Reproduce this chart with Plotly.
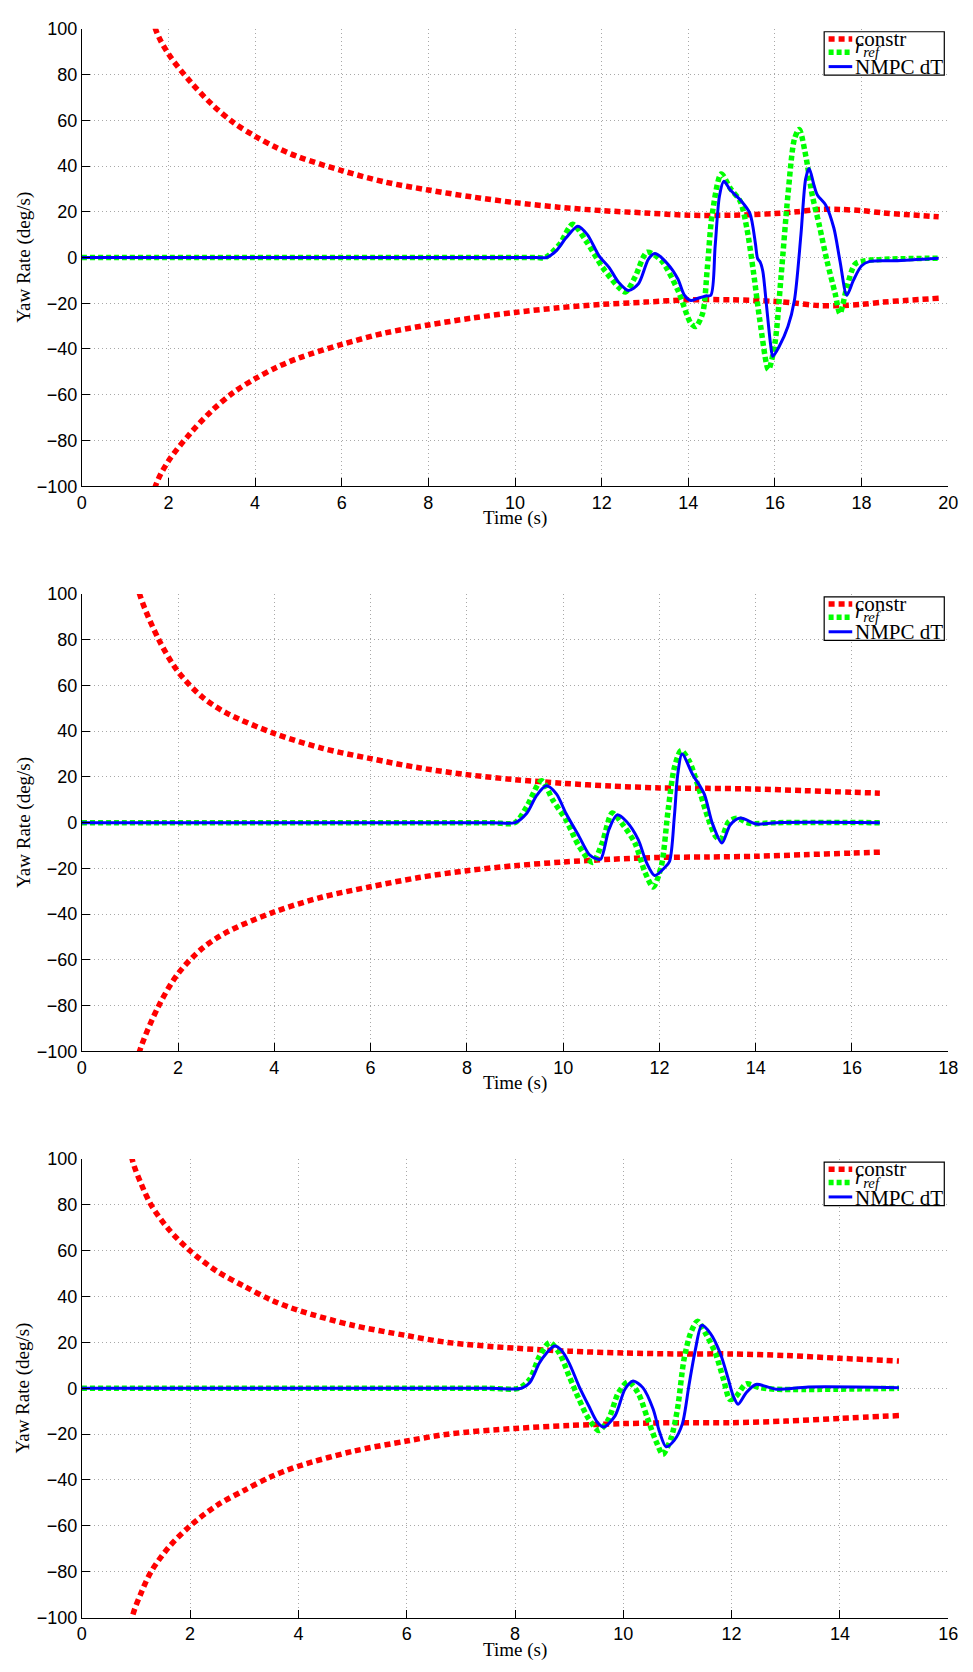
import plotly.graph_objects as go

# ---------------- data ----------------
# Run 1 (0-20 s)
t_c1 = [0, 0.5, 1.0, 1.4, 1.7, 2.0, 2.5, 3.0, 3.5, 4.0, 4.5, 5.0, 6.0, 7.0, 8.0, 9.0,
        10.0, 11.0, 12.0, 13.0, 14.0, 15.0, 16.0, 16.5, 17.0, 17.5, 18.0, 18.5, 19.0, 19.78]
c1 = [1000, 400, 200, 130, 100, 89, 77, 67, 59, 53, 48, 44, 38, 33, 29.5, 26.5,
      24, 22, 20.5, 19.5, 18.5, 18.5, 19.2, 20, 21, 21, 20.5, 19.5, 18.8, 17.8]

t_ref1 = [0, 10.0, 10.5, 10.7, 11.03, 11.33, 11.64, 12.02, 12.39, 12.55, 12.77, 13.05, 13.38,
          13.76, 14.06, 14.17, 14.33, 14.44, 14.55, 14.76, 14.97, 15.2, 15.35, 15.5, 15.65,
          15.85, 16.0, 16.14, 16.3, 16.45, 16.56, 16.71, 16.86, 17.02, 17.2, 17.39, 17.5,
          17.66, 17.85, 18.08, 19.78]
r_ref1 = [0, 0, 0, 0, 5.8, 14.5, 7.2, -4.3, -13, -15.1, -8.6, 2.3, -1.4,
          -14.4, -28.8, -30.2, -24.5, -4.3, 18.7, 36.5, 30.2, 24.5, 12.9, -5.8, -27.3,
          -49, -37.4, -8.6, 27.3, 51.8, 56, 44.6, 27.3, 14.4, -1.4, -15.8, -24.5,
          -13, -2.9, -1.4, -0.3]

t_nmpc1 = [0, 10.0, 10.5, 10.73, 10.95, 11.18, 11.45, 11.67, 11.94, 12.17, 12.39, 12.62, 12.85,
           13.08, 13.23, 13.53, 13.76, 13.91, 14.06, 14.2, 14.4, 14.52, 14.62, 14.72, 14.82,
           14.97, 15.2, 15.42, 15.55, 15.6, 15.66, 15.72, 15.8, 15.9, 15.95, 16.1, 16.3,
           16.45, 16.6, 16.71, 16.79, 16.9, 16.98, 17.17, 17.36, 17.5, 17.66, 17.81, 18.0,
           18.19, 18.76, 19.78]
nmpc1 = [0, 0, 0, 0, 2.9, 8.6, 13.7, 10, 0.7, -4.3, -10.8, -14.4, -11.5,
         -0.7, 1.8, -2.9, -9.4, -16.5, -18.8, -18, -16.8, -16.5, 5, 27, 33.3,
         29.5, 25.2, 19.4, 6, -0.5, -2, -6, -20, -38, -43.2, -38.8, -30.2,
         -18.7, 10, 34.5, 38.9, 31.7, 27.3, 23, 12.9, -1.4, -16.5, -10, -3.6,
         -1.7, -1.4, -0.3]

# Run 2 (0-18 s)
t_c2 = [0, 0.4, 0.8, 1.0, 1.2, 1.6, 2.0, 2.5, 3.0, 4.0, 5.0, 6.0, 7.0, 8.0, 9.0,
        10.0, 11.0, 12.0, 13.0, 14.0, 15.0, 16.0, 16.58]
c2 = [1000, 300, 150, 120, 100, 80, 66, 55, 48, 39, 32.5, 28, 24, 21, 18.8,
      17.2, 16, 15.2, 15, 14.7, 14, 13.3, 12.9]

t_ref2 = [0, 8.5, 9.0, 9.24, 9.55, 9.79, 10.06, 10.33, 10.61, 10.81, 11.02, 11.22, 11.49,
          11.7, 11.87, 12.04, 12.18, 12.31, 12.45, 12.62, 12.79, 13.0, 13.17, 13.27, 13.44,
          13.61, 13.88, 14.43, 16.58]
r_ref2 = [0, 0, 0, 6.9, 18.3, 9.7, 1.1, -10.3, -17.4, -8.9, 4.2, -0.3, -8.9,
          -21.7, -28.1, -18.9, 5.4, 24, 31.5, 26.9, 16.9, 2.6, -6, -7.4, 0.4,
          1.9, -0.3, 0, 0]

t_nmpc2 = [0, 8.5, 9.0, 9.24, 9.45, 9.65, 9.86, 10.06, 10.33, 10.54, 10.68, 10.78, 10.95,
           11.12, 11.32, 11.56, 11.73, 11.9, 12.11, 12.21, 12.31, 12.38, 12.47, 12.69, 12.93,
           13.1, 13.3, 13.47, 13.68, 14.02, 14.43, 16.58]
nmpc2 = [0, 0, 0, 4, 11.9, 16.1, 12.6, 4, -6, -13.9, -15.7, -16, -3.1,
         3.4, 0.4, -7.4, -17.4, -23.1, -19.6, -17, 2.6, 21, 30, 21.1, 12.6,
         -0.3, -8.9, -1, 2, -0.6, 0, 0]

# Run 3 (0-16 s)
t_c3 = [0, 0.3, 0.6, 0.8, 0.93, 1.1, 1.28, 1.6, 2.0, 2.5, 3.0, 3.5, 4.0, 5.0, 6.0, 6.76,
        8.0, 9.0, 10.0, 11.0, 12.0, 13.0, 14.0, 15.09]
c3 = [1000, 330, 165, 125, 100, 89, 80, 69.5, 60, 51, 44.5, 38.5, 34, 27.5, 23, 20,
      17.5, 16.2, 15.4, 15.0, 15.0, 14.3, 13.1, 11.9]

t_ref3 = [0, 7.5, 8.06, 8.27, 8.45, 8.64, 8.82, 9.0, 9.18, 9.36, 9.55, 9.73, 9.91, 10.09,
          10.27, 10.45, 10.61, 10.73, 10.88, 11.0, 11.12, 11.24, 11.37, 11.52, 11.7, 11.85,
          11.97, 12.09, 12.27, 12.52, 12.82, 15.09]
r_ref3 = [0, 0, 0, 3.9, 13.9, 20, 15.3, 5.3, -4.7, -13.3, -18.4, -13.3, -1.9, 2.8,
          -1.9, -13.3, -23.4, -28.8, -21.9, -9, 12.5, 23.9, 29.3, 23.9, 15.3, 3.9,
          -4.9, -3.3, 1.9, 0.3, -0.4, 0]

t_nmpc3 = [0, 7.5, 8.12, 8.27, 8.45, 8.58, 8.73, 8.85, 9.0, 9.18, 9.36, 9.52, 9.64, 9.85,
           10.03, 10.18, 10.36, 10.55, 10.67, 10.79, 10.94, 11.09, 11.21, 11.33, 11.45, 11.61,
           11.79, 11.94, 12.03, 12.12, 12.27, 12.45, 12.82, 13.42, 15.09]
nmpc3 = [0, 0, 0, 2.4, 11, 15.3, 18.5, 16.8, 11, 1, -7.6, -14.8, -16.9, -11.9,
         -0.4, 3.2, 0.3, -9, -19.1, -25.5, -22.7, -15.5, 1, 16.8, 27.5, 23.9,
         15.3, 3.9, -3.3, -6.9, -1.9, 1.7, -0.4, 0.6, 0.3]

x_max = [20, 18, 16]
y_ticks = list(range(-100, 101, 20))

runs = [
    (t_c1, c1, t_ref1, r_ref1, t_nmpc1, nmpc1),
    (t_c2, c2, t_ref2, r_ref2, t_nmpc2, nmpc2),
    (t_c3, c3, t_ref3, r_ref3, t_nmpc3, nmpc3),
]

# ---------------- layout geometry ----------------
W, H = 973, 1672
x_dom = [78 / W, 958 / W]
y_doms = [[(H - 482) / H, (H - 19) / H],
          [(H - 1054) / H, (H - 591) / H],
          [(H - 1627) / H, (H - 1163) / H]]

SANS = "Liberation Sans, Arial, Helvetica, sans-serif"
SERIF = "Liberation Serif, Times New Roman, serif"
RED, GREEN, BLUE = "#ff0000", "#00ff00", "#0000ff"

fig = go.Figure()
shapes, annotations = [], []

for i, (tc, c, tr, rr, tn, yn) in enumerate(runs):
    sfx = "" if i == 0 else str(i + 1)
    xa, ya = "x" + sfx, "y" + sfx

    # constraint envelope: lower branch backwards, then upper branch forwards
    cx = tc[::-1] + tc
    cy = [-v for v in c[::-1]] + c
    fig.add_trace(go.Scatter(x=cx, y=cy, mode="lines", xaxis=xa, yaxis=ya,
                             line=dict(color=RED, width=5.5, dash="6px,4px",
                                       shape="spline", smoothing=0.9),
                             showlegend=False, name="constr"))
    fig.add_trace(go.Scatter(x=tr, y=rr, mode="lines", xaxis=xa, yaxis=ya,
                             line=dict(color=GREEN, width=5.5, dash="5px,3px",
                                       shape="spline", smoothing=0.8),
                             showlegend=False, name="r_ref"))
    fig.add_trace(go.Scatter(x=tn, y=yn, mode="lines", xaxis=xa, yaxis=ya,
                             line=dict(color=BLUE, width=3, shape="spline", smoothing=0.8),
                             showlegend=False, name="NMPC dT"))

    common = dict(showline=True, linecolor="black", linewidth=1, mirror=False,
                  ticks="inside", ticklen=8, tickwidth=1, tickcolor="black",
                  showgrid=True, gridcolor="#a8a8a8", griddash="1px,3px", gridwidth=1,
                  zeroline=False, tickfont=dict(family=SANS, size=18, color="black"))
    fig.update_layout(**{
        "xaxis" + sfx: dict(domain=x_dom, anchor=ya, range=[0, x_max[i]],
                            tickvals=list(range(0, x_max[i] + 1, 2)), **common),
        "yaxis" + sfx: dict(domain=y_doms[i], anchor=xa, range=[-100, 100],
                            tickvals=y_ticks, **common),
    })

    xd, yd = xa + " domain", ya + " domain"
    ph = (y_doms[i][1] - y_doms[i][0]) * H
    pw = 880

    def fy(px_from_top):
        return 1 - px_from_top / ph

    def fx(px):
        return (px - 78) / pw

    # legend box
    shapes.append(dict(type="rect", xref=xd, yref=yd, x0=fx(832), x1=fx(954),
                       y0=fy(47), y1=fy(3), fillcolor="white",
                       line=dict(color="black", width=1.2), layer="above"))
    for yy, col, wd, ds in [(10.3, RED, 5.5, "6px,4px"), (23.7, GREEN, 5.5, "5px,3px"),
                            (38.3, BLUE, 3, "solid")]:
        shapes.append(dict(type="line", xref=xd, yref=yd, x0=fx(836.5), x1=fx(860.5),
                           y0=fy(yy), y1=fy(yy), line=dict(color=col, width=wd, dash=ds),
                           layer="above"))
    for yy, txt in [(10, "constr"), (18.7, "<i>r</i><sub><i>ref</i></sub>"), (39, "NMPC dT")]:
        annotations.append(dict(xref=xd, yref=yd, x=fx(862.5), y=fy(yy), text=txt,
                                showarrow=False, xanchor="left", yanchor="middle",
                                font=dict(family=SERIF, size=21, color="black"),
                                borderpad=0))

    # axis titles
    annotations.append(dict(xref=xd, yref=yd, x=0.5, y=0, yshift=-32, text="Time (s)",
                            showarrow=False, xanchor="center", yanchor="middle",
                            font=dict(family=SERIF, size=19, color="black")))
    annotations.append(dict(xref=xd, yref=yd, x=0, xshift=-58.5, y=0.5,
                            text="Yaw Rate (deg/s)", textangle=-90, showarrow=False,
                            xanchor="center", yanchor="middle",
                            font=dict(family=SERIF, size=19, color="black")))

fig.update_layout(width=W, height=H, margin=dict(l=0, r=0, t=0, b=0),
                  paper_bgcolor="white", plot_bgcolor="white",
                  shapes=shapes, annotations=annotations, showlegend=False)

fig.write_html("out.html")
